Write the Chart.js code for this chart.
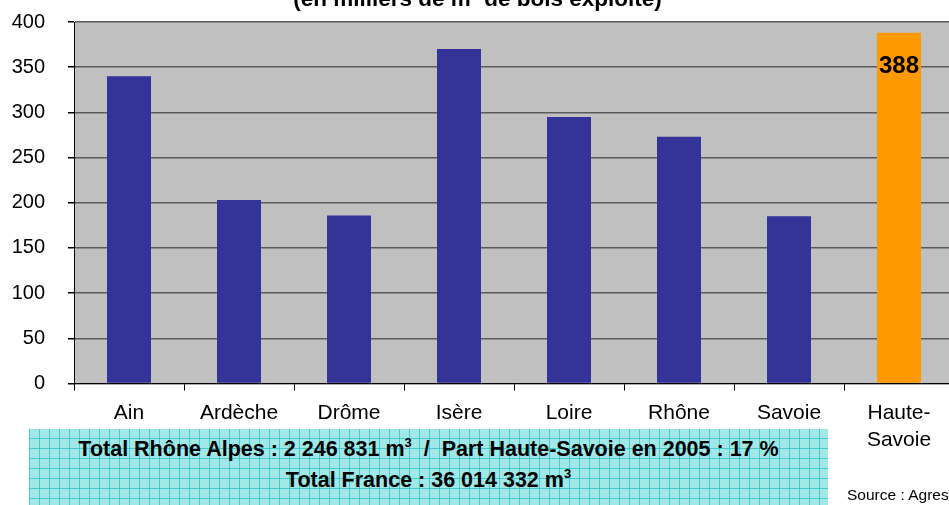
<!DOCTYPE html>
<html>
<head>
<meta charset="utf-8">
<script src="https://cdn.jsdelivr.net/npm/chart.js@4/dist/chart.umd.min.js"></script>
<style>
  html, body { margin:0; padding:0; background:#fff; }
  #wrap { position:relative; width:949px; height:505px; overflow:hidden; font-family:"Liberation Sans", Arial, sans-serif; }
  #cv { position:absolute; left:0; top:0; width:1000px; height:505px; }
  #title { position:absolute; left:0; width:955px; top:-11px; text-align:center; font-weight:bold; font-size:22.5px; line-height:20px; color:#000; white-space:nowrap; }
  #box { position:absolute; left:29px; top:429px; width:799px; height:90px;
    background-color:#a3e8e8;
    background-image:
      linear-gradient(to right, rgba(40,195,195,0.75) 1px, transparent 1px),
      linear-gradient(to bottom, rgba(40,195,195,0.75) 1px, transparent 1px);
    background-size:10px 10px; background-position:0px 9px; }
  .bl { position:absolute; left:0; width:799px; text-align:center; font-weight:bold; font-size:21.5px; line-height:20px; color:#000; white-space:nowrap; }
  sup { font-size:13px; line-height:0; vertical-align:9px; }
  #src { position:absolute; left:847px; top:487px; font-size:15.5px; line-height:15px; color:#000; white-space:nowrap; }
</style>
</head>
<body>
<div id="wrap">
  <canvas id="cv" width="1000" height="505"></canvas>
  <div id="title">(en milliers de m<sup>3</sup> de bois exploité)</div>
  <div id="box">
    <div class="bl" style="top:10px">Total Rhône Alpes : 2 246 831 m<sup>3</sup>&nbsp; / &nbsp;Part Haute-Savoie en 2005 : 17 %</div>
    <div class="bl" style="top:41px">Total France : 36 014 332 m<sup>3</sup></div>
  </div>
  <div id="src">Source : Agreste</div>
</div>
<script>
const categories = ["Ain", "Ardèche", "Drôme", "Isère", "Loire", "Rhône", "Savoie", ["Haute-", "Savoie"]];
const volumes = [340, 203, 186, 370, 295, 273, 185, 388];
const barColors = ["#333399", "#333399", "#333399", "#333399", "#333399", "#333399", "#333399", "#FF9900"];
const yTicks = [0, 50, 100, 150, 200, 250, 300, 350, 400];
const labelledIndex = 7;

const plotBg = {
  id: 'plotBg',
  beforeDraw(chart) {
    const a = chart.chartArea, c = chart.ctx;
    c.save(); c.fillStyle = '#C0C0C0';
    c.fillRect(a.left, a.top, a.right - a.left, a.bottom - a.top);
    c.restore();
  }
};
const valueLabel = {
  id: 'valueLabel',
  afterDatasetsDraw(chart) {
    const el = chart.getDatasetMeta(0).data[labelledIndex];
    const c = chart.ctx;
    c.save();
    c.font = 'bold 24px "Liberation Sans", Arial, sans-serif';
    c.fillStyle = '#000'; c.textAlign = 'center'; c.textBaseline = 'middle';
    c.fillText(String(volumes[labelledIndex]), el.x, el.y + 34);
    c.restore();
  }
};

new Chart(document.getElementById('cv'), {
  type: 'bar',
  data: {
    labels: categories,
    datasets: [{ data: volumes, backgroundColor: barColors, borderWidth: 0, categoryPercentage: 1, barPercentage: 0.4 }]
  },
  options: {
    responsive: false, animation: false, devicePixelRatio: 1,
    layout: { padding: { top: 22, right: 46, left: 0, bottom: 0 } },
    plugins: { legend: { display: false }, title: { display: false }, tooltip: { enabled: false } },
    scales: {
      x: {
        offset: true,
        grid: { display: true, drawOnChartArea: false, drawTicks: true, tickLength: 7, tickColor: '#000', offset: true },
        border: { display: true, color: '#000', width: 1 },
        ticks: { color: '#000', padding: 9, maxRotation: 0, autoSkip: false,
          font: { family: '"Liberation Sans", Arial, sans-serif', size: 21, lineHeight: 1.29 } },
        afterFit(s) { s.height = 121.5; s.paddingLeft = 0; s.paddingRight = 0; }
      },
      y: {
        min: 0, max: 400,
        afterBuildTicks(s) { s.ticks = yTicks.map(v => ({ value: v })); },
        grid: { color: '#5a5a5a', lineWidth: 1.5, tickLength: 6, tickColor: '#000', drawTicks: true },
        border: { display: true, color: '#000', width: 1 },
        ticks: { color: '#000', padding: 23, font: { family: '"Liberation Sans", Arial, sans-serif', size: 20 } },
        afterFit(s) { s.width = 74; s.paddingTop = 0; s.paddingBottom = 0; }
      }
    }
  },
  plugins: [plotBg, valueLabel]
});
</script>
</body>
</html>
